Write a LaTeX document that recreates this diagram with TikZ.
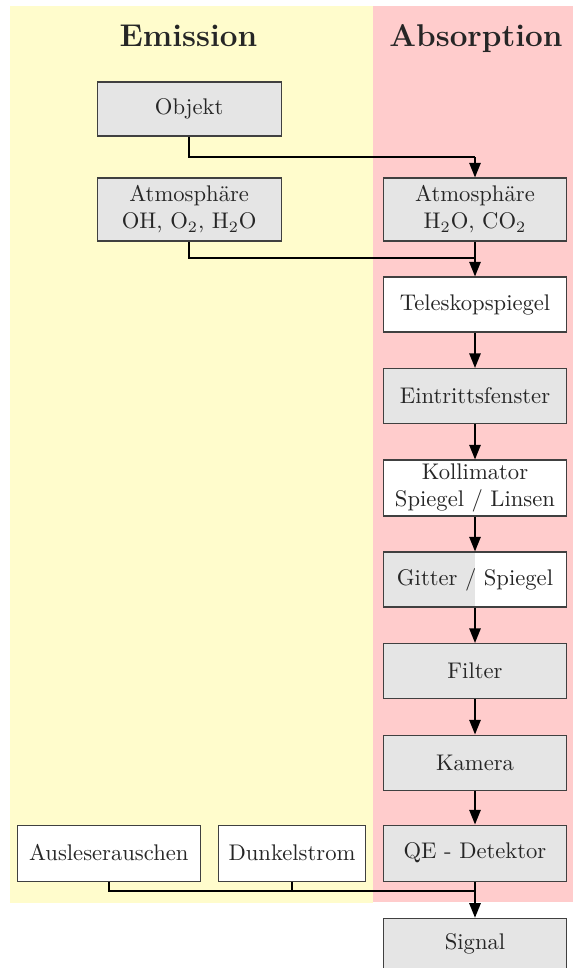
\documentclass[tikz,border=0pt]{standalone}
\usetikzlibrary{arrows.meta}
\begin{document}
\begin{tikzpicture}[x=0.442pt,y=-0.442pt,
  box/.style={draw=black!75, line width=0.45pt, fill=gray!20,
    minimum width=183.4*0.442pt, minimum height=55*0.442pt, inner sep=0pt,
    align=center, text=black!85, font=\fontsize{10}{12}\selectfont},
  wbox/.style={box, fill=white},
  conn/.style={line width=0.9pt},
  arr/.style={conn, -{Triangle[length=6.5pt,width=5pt]}},
  title/.style={font=\fontsize{13.9}{16}\selectfont\bfseries, text=black!85, anchor=base}]
\useasboundingbox (0,0) rectangle (573,968);
% backgrounds
\fill[yellow!20] (10,6) rectangle (373.3,902.5);
\fill[red!20] (373.3,6) rectangle (573,902);
% titles
\node[title] (temis) at (188.5,46.5) {Emission};
\node[title] (tabs) at (476,46.5) {Absorption};
% nodes
\node[box, minimum width=184*0.442pt, minimum height=54*0.442pt] (obj) at (189.2,109) {Objekt};
\node[box, minimum width=184*0.442pt, minimum height=63*0.442pt] (atml) at (189.2,209.5) {Atmosphäre\\OH, O$_2$, H$_2$O};
\node[box, minimum height=63*0.442pt] (atmr) at (475,209.5) {Atmosphäre\\H$_2$O, CO$_2$};
\node[wbox] (tel) at (475,304.5) {Teleskopspiegel};
\node[box] (ein) at (475,396) {Eintrittsfenster};
\node[wbox, minimum height=56*0.442pt] (kol) at (475,488) {Kollimator\\Spiegel / Linsen};
\node[box, fill=white, path picture={\fill[gray!20] (path picture bounding box.south west) rectangle (path picture bounding box.north);}] (git) at (475,579.5) {Gitter / Spiegel};
\node[box] (fil) at (475,671) {Filter};
\node[box] (kam) at (475,762.5) {Kamera};
\node[box, minimum height=56*0.442pt] (qe) at (475,853) {QE - Detektor};
\node[box, minimum height=51*0.442pt] (sig) at (475,943.8) {Signal};
\node[wbox, minimum width=183*0.442pt, minimum height=56*0.442pt] (aus) at (108.8,853) {Ausleserauschen};
\node[wbox, minimum width=147*0.442pt, minimum height=56*0.442pt] (dun) at (292,853) {Dunkelstrom};
% connectors
\coordinate (j1) at (189.2,157.3);
\coordinate (j2) at (475,157.3);
\draw[conn] (obj.south) -- (j1) -- (j2);
\draw[arr] (j2) -- (atmr.north);
\coordinate (j3) at (189.2,258.3);
\coordinate (j4) at (475,258.3);
\draw[conn] (atml.south) -- (j3) -- (j4);
\draw[arr] (atmr.south) -- (tel.north);
\draw[arr] (tel) -- (ein);
\draw[arr] (ein) -- (kol);
\draw[arr] (kol) -- (git);
\draw[arr] (git) -- (fil);
\draw[arr] (fil) -- (kam);
\draw[arr] (kam) -- (qe);
\coordinate (j5) at (108.8,890.7);
\coordinate (j6) at (292,890.7);
\coordinate (j7) at (475,890.7);
\draw[conn] (aus.south) -- (j5) -- (j7);
\draw[conn] (dun.south) -- (j6);
\draw[arr] (qe.south) -- (sig.north);
\end{tikzpicture}
\end{document}
